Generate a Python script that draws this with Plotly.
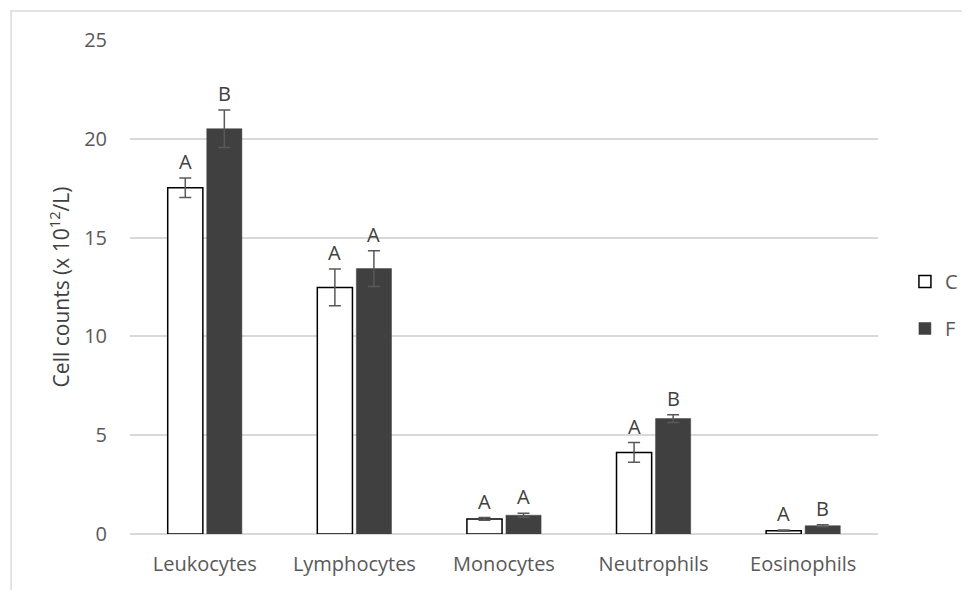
import plotly.graph_objects as go

categories = ["Leukocytes", "Lymphocytes", "Monocytes", "Neutrophils", "Eosinophils"]
c_values = [17.52, 12.48, 0.76, 4.13, 0.17]
c_errors = [0.49, 0.93, 0.07, 0.50, 0.03]
f_values = [20.51, 13.43, 0.95, 5.84, 0.42]
f_errors = [0.95, 0.90, 0.10, 0.20, 0.05]
c_letters = ["A", "A", "A", "A", "A"]
f_letters = ["B", "A", "A", "B", "B"]
y_ticks = [0, 5, 10, 15, 20, 25]

FONT = "Open Sans, Carlito, Calibri, sans-serif"
GREY = "#595959"

fig = go.Figure()
fig.add_trace(go.Bar(
    name="C", x=categories, y=c_values, legendgroup="c",
    marker=dict(color="white", line=dict(color="black", width=1.5)),
    error_y=dict(type="data", array=c_errors, color=GREY, thickness=1.5, width=6),
))
fig.add_trace(go.Bar(
    name="F", x=categories, y=f_values, legendgroup="f",
    marker=dict(color="#404040", line=dict(color="#404040", width=0.5)),
    error_y=dict(type="data", array=f_errors, color=GREY, thickness=1.5, width=6),
))

for cat, v, e, t in zip(categories, c_values, c_errors, c_letters):
    fig.add_annotation(x=cat, y=v + e, text=t, showarrow=False, xshift=-19.5,
                       yanchor="bottom", yshift=1, font=dict(family=FONT, size=20, color="#404040"))
for cat, v, e, t in zip(categories, f_values, f_errors, f_letters):
    fig.add_annotation(x=cat, y=v + e, text=t, showarrow=False, xshift=19.5,
                       yanchor="bottom", yshift=1, font=dict(family=FONT, size=20, color="#404040"))

# outer chart border
fig.add_shape(type="rect", xref="paper", yref="paper", x0=-0.159, x1=1.2, y0=-0.2, y1=1.0587,
              line=dict(color="#d9d9d9", width=1.5), fillcolor="rgba(0,0,0,0)", layer="below")

fig.update_layout(
    width=970, height=590,
    margin=dict(l=122, r=100, t=32, b=64, autoexpand=False),
    paper_bgcolor="white", plot_bgcolor="white",
    barmode="group", bargap=0.478, bargroupgap=0.10,
    font=dict(family=FONT, size=20, color=GREY),
    showlegend=True,
    legend=dict(x=1.036, y=0.4636, xanchor="left", yanchor="middle",
                font=dict(family=FONT, size=20, color=GREY), itemwidth=30,
                tracegroupgap=18, bgcolor="rgba(0,0,0,0)"),
    xaxis=dict(showgrid=False, showline=False, ticks="", tickfont=dict(size=20, color=GREY),
               ticklabelstandoff=16),
    yaxis=dict(range=[0, 25], tickvals=y_ticks, showgrid=True, gridcolor="#d9d9d9", gridwidth=1.5,
               zeroline=True, zerolinecolor="#d9d9d9", zerolinewidth=1.5, showline=False,
               tickfont=dict(size=20, color=GREY), ticklabelstandoff=22,
               title=dict(text="Cell counts (x 10<sup>12</sup>/L)", font=dict(size=21, color="#404040"),
                          standoff=8)),
)

fig.write_html("out.html")
